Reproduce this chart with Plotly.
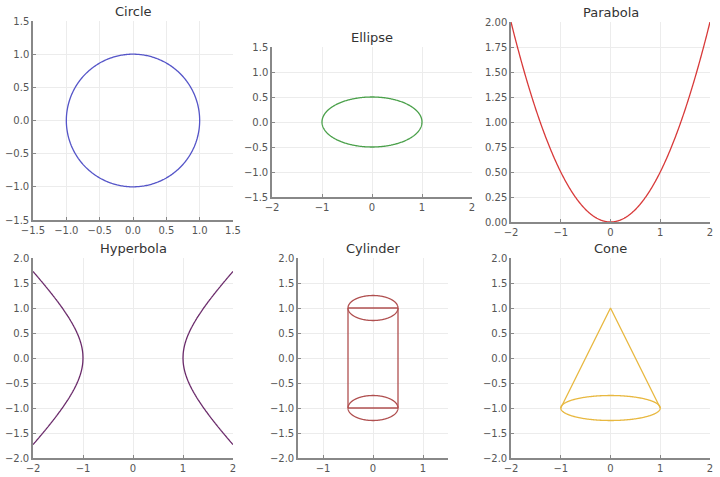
import numpy as np
import plotly.graph_objects as go

W, H = 720, 477

# shape parameters
titles = ["Circle", "Ellipse", "Parabola", "Hyperbola", "Cylinder", "Cone"]
colors = ["#5555c8", "#4aa04a", "#d83a3a", "#6a2a6a", "#b05050", "#e8b840"]

circle_r = 1.0
ellipse_ab = [1.0, 0.5]
parabola_k = 0.5          # y = k*x^2
parabola_x = [-2.0, 2.0]
hyperbola_ab = [1.0, 1.0]
hyperbola_x = [1.0, 2.0]
cyl_r = 0.5
cyl_cap_ry = 0.25
cyl_y = [-1.0, 1.0]
cone_apex = [0.0, 1.0]
cone_base_y = -1.0
cone_base_r = 1.0
cone_base_ry = 0.25

# axis ranges / ticks per panel
x_ranges = [[-1.5, 1.5], [-2, 2], [-2, 2], [-2, 2], [-1.5, 1.5], [-2, 2]]
y_ranges = [[-1.5, 1.5], [-1.5, 1.5], [0, 2], [-2, 2], [-2, 2], [-2, 2]]
x_ticks = [[-1.5, -1.0, -0.5, 0.0, 0.5, 1.0, 1.5], [-2, -1, 0, 1, 2], [-2, -1, 0, 1, 2],
           [-2, -1, 0, 1, 2], [-1, 0, 1], [-2, -1, 0, 1, 2]]
y_ticks = [[-1.5, -1.0, -0.5, 0.0, 0.5, 1.0, 1.5], [-1.5, -1.0, -0.5, 0.0, 0.5, 1.0, 1.5],
           [0, 0.25, 0.5, 0.75, 1.0, 1.25, 1.5, 1.75, 2.0],
           [-2.0, -1.5, -1.0, -0.5, 0.0, 0.5, 1.0, 1.5, 2.0],
           [-2.0, -1.5, -1.0, -0.5, 0.0, 0.5, 1.0, 1.5, 2.0],
           [-2.0, -1.5, -1.0, -0.5, 0.0, 0.5, 1.0, 1.5, 2.0]]
x_fmt = [".1f", "d", "d", "d", "d", "d"]
y_fmt = [".1f", ".1f", ".2f", ".1f", ".1f", ".1f"]

# panel boxes in page pixels: left, right, top, bottom
boxes = [(33, 233, 21, 220), (272, 472, 47, 197), (511, 710, 22, 222),
         (33, 233, 258, 458), (298, 448, 258, 458), (511, 710, 258, 458)]

t = np.linspace(0, 2 * np.pi, 400)


def ell(cx, cy, rx, ry):
    return cx + rx * np.cos(t), cy + ry * np.sin(t)


def cat(*parts):
    xs, ys = [], []
    for px, py in parts:
        xs += list(px) + [None]
        ys += list(py) + [None]
    return xs, ys


curves = []
curves.append(ell(0, 0, circle_r, circle_r))
curves.append(ell(0, 0, ellipse_ab[0], ellipse_ab[1]))
px = np.linspace(parabola_x[0], parabola_x[1], 400)
curves.append((px, parabola_k * px ** 2))
hx = np.linspace(hyperbola_x[0], hyperbola_x[1], 300)
hy = hyperbola_ab[1] * np.sqrt((hx / hyperbola_ab[0]) ** 2 - 1)
right = (np.concatenate([hx[::-1], hx]), np.concatenate([-hy[::-1], hy]))
left = (-right[0], right[1])
curves.append(cat(left, right))
curves.append(cat(ell(0, cyl_y[1], cyl_r, cyl_cap_ry), ell(0, cyl_y[0], cyl_r, cyl_cap_ry),
                  ([-cyl_r, cyl_r], [cyl_y[1], cyl_y[1]]), ([-cyl_r, cyl_r], [cyl_y[0], cyl_y[0]]),
                  ([-cyl_r, -cyl_r], cyl_y), ([cyl_r, cyl_r], cyl_y)))
curves.append(cat(([-cone_base_r, cone_apex[0], cone_base_r], [cone_base_y, cone_apex[1], cone_base_y]),
                  ell(0, cone_base_y, cone_base_r, cone_base_ry)))

fig = go.Figure()
layout = dict(width=W, height=H, margin=dict(l=0, r=0, t=0, b=0),
              paper_bgcolor="white", plot_bgcolor="white", showlegend=False,
              font=dict(family="DejaVu Sans", size=10, color="#555555"))
annotations = []

for i in range(6):
    n = "" if i == 0 else str(i + 1)
    l, r, tp, b = boxes[i]
    xd = [l / W, r / W]
    yd = [1 - b / H, 1 - tp / H]
    ax = dict(domain=xd, range=x_ranges[i], tickvals=x_ticks[i], tickformat=x_fmt[i],
              showgrid=True, gridcolor="#ececec", gridwidth=1, zeroline=False,
              showline=True, linecolor="#888888", linewidth=1.5, automargin=False,
              ticks="inside", ticklen=3, tickcolor="#888888", anchor="y" + n)
    ay = dict(domain=yd, range=y_ranges[i], tickvals=y_ticks[i], tickformat=y_fmt[i],
              showgrid=True, gridcolor="#ececec", gridwidth=1, zeroline=False,
              showline=True, linecolor="#888888", linewidth=1.5, automargin=False,
              ticks="inside", ticklen=3, tickcolor="#888888", anchor="x" + n)
    layout["xaxis" + n] = ax
    layout["yaxis" + n] = ay
    cx, cy = curves[i]
    fig.add_trace(go.Scatter(x=cx, y=cy, mode="lines", xaxis="x" + n, yaxis="y" + n,
                             line=dict(color=colors[i], width=1.3, simplify=False),
                             hoverinfo="skip"))
    annotations.append(dict(text=titles[i], x=(xd[0] + xd[1]) / 2, y=yd[1] + 9.5 / H,
                            xref="paper", yref="paper", xanchor="center", yanchor="middle",
                            showarrow=False, font=dict(size=13, color="#333333")))

layout["annotations"] = annotations
fig.update_layout(**layout)
# drop the default 8px page margin so the figure sits at the window's corner
fig.write_html("out.html", config={"displayModeBar": False},
               post_script="document.body.style.margin='0';")
